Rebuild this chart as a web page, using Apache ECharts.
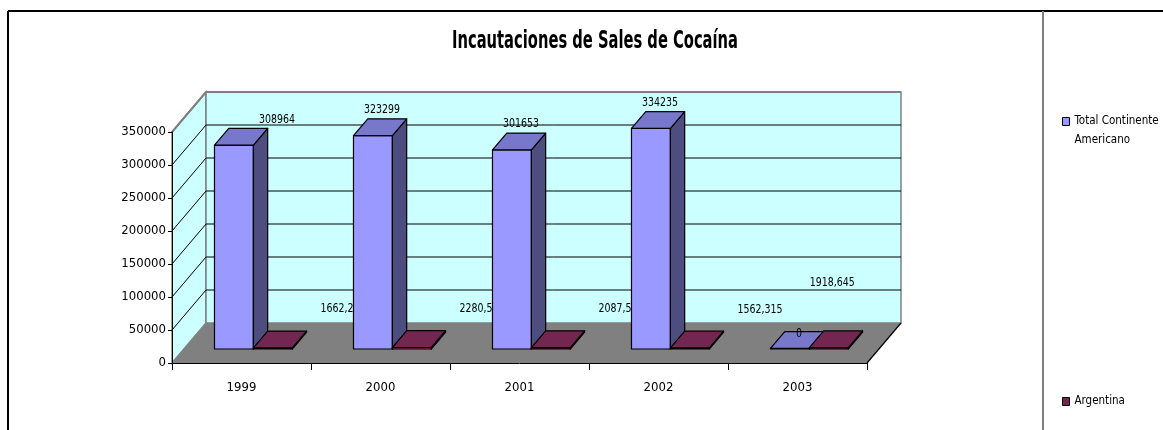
<!DOCTYPE html>
<html><head><meta charset="utf-8">
<script src="https://cdn.jsdelivr.net/npm/echarts@6/dist/echarts.min.js"></script>
<style>html,body{margin:0;padding:0;background:#fff}#c{width:1163px;height:430px}</style>
</head><body><div id="c"></div>
<script>
// ---- data ----
const categories = ['1999', '2000', '2001', '2002', '2003'];
const totalAmericas = [308964, 323299, 301653, 334235, 0];
const argentina = [1662.25, 2280.5, 2087.5, 1562.315, 1918.645];
const yTicks = [0, 50000, 100000, 150000, 200000, 250000, 300000, 350000];
const seriesNames = ['Total Continente Americano', 'Argentina'];
const titleText = 'Incautaciones de Sales de Cocaína';

// ---- font detection (narrow face if installed) ----
const mctx = document.createElement('canvas').getContext('2d');
function hasFont(name) {
  const s = 'Incautaciones de Sales 0123456789';
  mctx.font = '40px monospace';
  const w0 = mctx.measureText(s).width;
  mctx.font = '40px "' + name + '", monospace';
  return Math.abs(mctx.measureText(s).width - w0) > 0.5;
}
const narrowCands = ['Liberation Sans Narrow', 'Arial Narrow', 'DejaVu Sans Condensed', 'Roboto Condensed', 'Open Sans Condensed', 'Noto Sans Condensed'];
const narrow = narrowCands.find(hasFont);
const FONT = narrow ? "'" + narrow + "', 'Liberation Sans', sans-serif" : "'Liberation Sans', Arial, sans-serif";
const AX_SIZE = narrow ? 13 : 11;
const LEG_SIZE = narrow ? 11.5 : 10.5;
function widthOf(font, s) { mctx.font = font; return mctx.measureText(s).width; }
const TXT_SCALE = Math.min(1, 36 / widthOf('13px ' + FONT, '308964'));
const TITLE_SCALE = 286 / widthOf('bold 24px ' + FONT, titleText);

// ---- style ----
const DX = 34, DY = -40;      // oblique depth of the plot box
const F0 = 0.35, F1 = 0.77;   // bar depth range (fraction of box depth)
const BW = 0.28;              // bar width as fraction of category slot
const fmt = v => String(v).replace('.', ',');
const COLORS = [
  { front: '#9999FF', side: '#4D4D80', top: '#7777CC' },
  { front: '#993366', side: '#4D1A33', top: '#732650' }
];

function barRender(sIdx) {
  const col = COLORS[sIdx];
  return function (params, api) {
    const i = api.value(0), v = api.value(1);
    const base = api.coord([i, 0]);
    const topP = api.coord([i, v]);
    const sw = api.size([1, 0])[0];
    const w = sw * BW;
    const xl = sIdx === 0 ? base[0] - w : base[0];
    const xr = xl + w;
    const a = F0 * DX, b = F0 * DY, c = F1 * DX, d = F1 * DY;
    const y0 = base[1], yt = Math.min(topP[1], base[1] - 0.6);
    const st = { stroke: '#000', lineWidth: 1.2, lineJoin: 'round' };
    const children = [
      { type: 'polygon', z2: 10, shape: { points: [[xl + a, yt + b], [xr + a, yt + b], [xr + a, y0 + b], [xl + a, y0 + b]] }, style: Object.assign({ fill: col.front }, st) },
      { type: 'polygon', z2: 10, shape: { points: [[xr + a, yt + b], [xr + c, yt + d], [xr + c, y0 + d], [xr + a, y0 + b]] }, style: Object.assign({ fill: col.side }, st) },
      { type: 'polygon', z2: 10, shape: { points: [[xl + a, yt + b], [xr + a, yt + b], [xr + c, yt + d], [xl + c, yt + d]] }, style: Object.assign({ fill: col.top }, st) }
    ];
    let lx, ly, align = 'center', z2 = 20;
    const n = categories.length;
    if (sIdx === 0) {
      lx = (xl + xr) / 2 + a + 9 + (params.dataIndex === 0 ? 34 : 0);
      ly = v === 0 ? yt + d + 2 : yt + d - 9;
    } else {
      z2 = 5;
      if (params.dataIndex === n - 1) {
        lx = (xl + xr) / 2 + c - 11; ly = yt + d - 48;
      } else {
        lx = xr + c + 14; ly = yt + d - 22; align = 'left';
      }
    }
    children.push({
      type: 'text', z2: z2, x: lx, y: ly, scaleX: TXT_SCALE,
      style: { text: fmt(v), x: 0, y: 0, fill: '#000', font: '13px ' + FONT,
        align: align, textAlign: align, verticalAlign: 'middle', textVerticalAlign: 'middle' }
    });
    return { type: 'group', children: children };
  };
}

function bgRender(params, api) {
  const sw = api.size([1, 0])[0];
  const L = api.coord([0, 0])[0] - sw / 2;
  const R = L + sw * categories.length;
  const y0 = api.coord([0, yTicks[0]])[1];
  const yM = api.coord([0, yTicks[yTicks.length - 1]])[1];
  const ch = [];
  ch.push({ type: 'polygon', shape: { points: [[L, yM], [L + DX, yM + DY], [L + DX, y0 + DY], [L, y0]] }, style: { fill: '#CCFFFF', stroke: '#808080', lineWidth: 1.5 } });
  ch.push({ type: 'polygon', shape: { points: [[L + DX, yM + DY], [R + DX, yM + DY], [R + DX, y0 + DY], [L + DX, y0 + DY]] }, style: { fill: '#CCFFFF', stroke: '#808080', lineWidth: 1.5 } });
  for (let k = 1; k < yTicks.length - 1; k++) {
    const y = api.coord([0, yTicks[k]])[1];
    ch.push({ type: 'line', shape: { x1: L + DX, y1: y + DY, x2: R + DX, y2: y + DY }, style: { stroke: '#000', lineWidth: 1 } });
    ch.push({ type: 'line', shape: { x1: L, y1: y, x2: L + DX, y2: y + DY }, style: { stroke: '#000', lineWidth: 1 } });
  }
  ch.push({ type: 'line', shape: { x1: L, y1: yM, x2: L + DX, y2: yM + DY }, style: { stroke: '#808080', lineWidth: 2 } });
  ch.push({ type: 'line', shape: { x1: L + DX, y1: yM + DY, x2: R + DX, y2: yM + DY }, style: { stroke: '#808080', lineWidth: 2 } });
  ch.push({ type: 'polygon', shape: { points: [[L, y0], [R, y0], [R + DX, y0 + DY], [L + DX, y0 + DY]] }, style: { fill: '#808080' } });
  ch.push({ type: 'line', shape: { x1: R, y1: y0, x2: R + DX, y2: y0 + DY }, style: { stroke: '#000', lineWidth: 1.2 } });
  return { type: 'group', children: ch };
}

const chart = echarts.init(document.getElementById('c'), null, { renderer: 'canvas' });
const legendText = { fontFamily: FONT, fontSize: LEG_SIZE, color: '#000', lineHeight: 19 };
chart.setOption({
  animation: false,
  backgroundColor: '#fff',
  legend: [
    { data: [seriesNames[0]], orient: 'vertical', left: 1062, top: 93, padding: 0, icon: 'rect', itemWidth: 7, itemHeight: 8,
      itemGap: 0, itemStyle: { borderColor: '#000', borderWidth: 1 }, formatter: () => '\nTotal Continente\nAmericano',
      textStyle: legendText, selectedMode: false },
    { data: [seriesNames[1]], orient: 'vertical', left: 1062, top: 392, padding: 0, icon: 'rect', itemWidth: 7, itemHeight: 8,
      itemStyle: { borderColor: '#000', borderWidth: 1 }, textStyle: legendText, selectedMode: false }
  ],
  grid: { left: 172, right: 296, top: 132, bottom: 67, containLabel: false },
  xAxis: {
    type: 'category', data: categories, z: 6,
    axisLine: { lineStyle: { color: '#000', width: 1 } },
    axisTick: { show: true, length: 7, lineStyle: { color: '#000' } },
    axisLabel: { margin: 18, fontFamily: FONT, fontSize: AX_SIZE, color: '#000' },
    splitLine: { show: false }
  },
  yAxis: {
    type: 'value', min: 0, max: 350000, interval: 50000, z: 6,
    axisLine: { show: true, lineStyle: { color: '#000', width: 1 } },
    axisTick: { show: true, length: 4, lineStyle: { color: '#000' } },
    axisLabel: { margin: 6, fontFamily: FONT, fontSize: AX_SIZE, color: '#000', formatter: v => String(v) },
    splitLine: { show: false }
  },
  graphic: [
    { type: 'line', shape: { x1: 8, y1: 11, x2: 1163, y2: 11 }, style: { stroke: '#000', lineWidth: 2 } },
    { type: 'line', shape: { x1: 8, y1: 11, x2: 8, y2: 430 }, style: { stroke: '#000', lineWidth: 2 } },
    { type: 'line', shape: { x1: 1043, y1: 11, x2: 1043, y2: 430 }, style: { stroke: '#808080', lineWidth: 2 } },
    { type: 'text', x: 595, y: 42, scaleX: TITLE_SCALE,
      style: { text: titleText, x: 0, y: 0, fill: '#000', font: 'bold 24px ' + FONT,
        align: 'center', textAlign: 'center', verticalAlign: 'middle', textVerticalAlign: 'middle' } }
  ],
  series: [
    { type: 'custom', name: 'bg', z: 1, silent: true, data: [[categories[0], 0]], renderItem: bgRender },
    { type: 'custom', name: seriesNames[0], z: 2, itemStyle: { color: COLORS[0].front },
      data: categories.map((c, i) => [c, totalAmericas[i]]), renderItem: barRender(0) },
    { type: 'custom', name: seriesNames[1], z: 2, itemStyle: { color: COLORS[1].top },
      data: categories.map((c, i) => [c, argentina[i]]), renderItem: barRender(1) }
  ]
});
</script>
</body></html>
